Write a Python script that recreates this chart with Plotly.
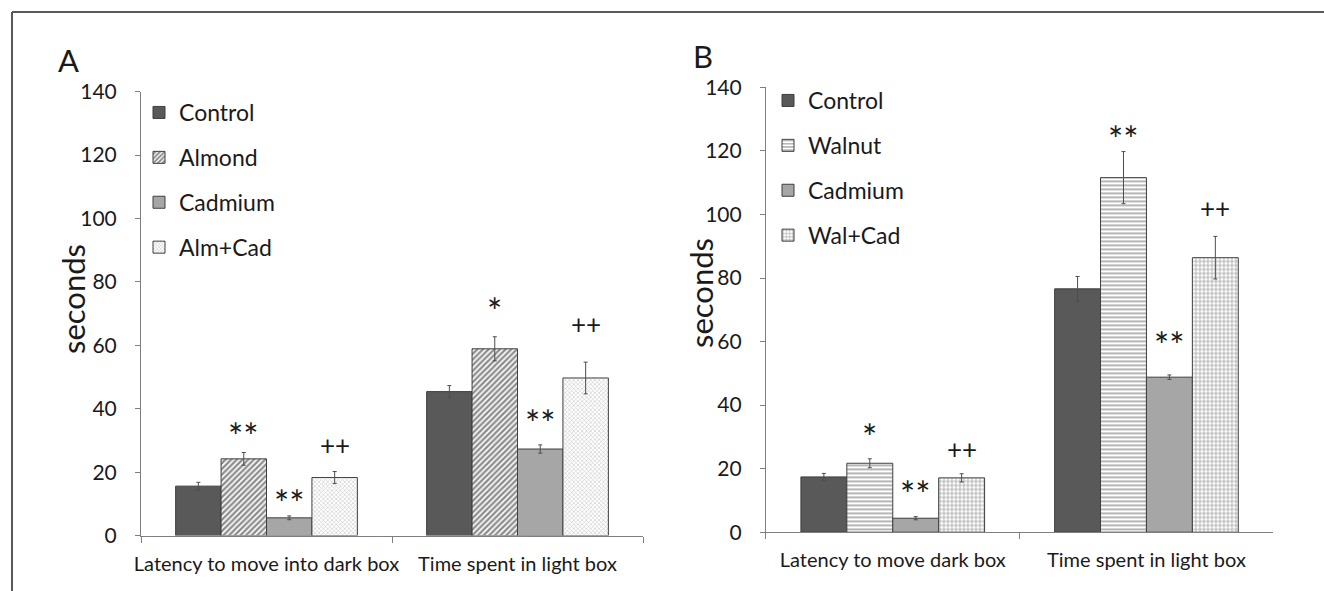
import plotly.graph_objects as go

# ---------------- data ----------------
categories_a = ["Latency to move into dark box", "Time spent in light box"]
categories_b = ["Latency to move dark box", "Time spent in light box"]

series_a = ["Control", "Almond", "Cadmium", "Alm+Cad"]
series_b = ["Control", "Walnut", "Cadmium", "Wal+Cad"]

control_a = [15.6, 45.4]
control_a_err = [1.2, 1.9]
almond_a = [24.2, 58.9]
almond_a_err = [2.0, 3.8]
cadmium_a = [5.6, 27.3]
cadmium_a_err = [0.6, 1.3]
almcad_a = [18.3, 49.7]
almcad_a_err = [1.9, 5.0]

control_b = [17.4, 76.6]
control_b_err = [1.1, 3.9]
walnut_b = [21.7, 111.6]
walnut_b_err = [1.4, 8.2]
cadmium_b = [4.4, 48.8]
cadmium_b_err = [0.5, 0.7]
walcad_b = [17.1, 86.4]
walcad_b_err = [1.3, 6.7]

sig_a_labels = ["**", "**", "++", "*", "**", "++"]
sig_a_series = [1, 2, 3, 1, 2, 3]
sig_a_cat = [0, 0, 0, 1, 1, 1]
sig_a_y = [34.2, 13.2, 28.6, 73.8, 38.2, 66.7]

sig_b_labels = ["*", "**", "++", "**", "**", "++"]
sig_b_series = [1, 2, 3, 1, 2, 3]
sig_b_cat = [0, 0, 0, 1, 1, 1]
sig_b_y = [32.9, 14.8, 26.3, 126.6, 61.9, 101.9]

y_ticks = [0, 20, 40, 60, 80, 100, 120, 140]

# ---------------- styles ----------------
FONT = "Lato"
TXT = "#1a1a1a"
AXC = "#7f7f7f"
OUTLINE = dict(color="#3f3f3f", width=1)
ERR = dict(type="data", thickness=1, width=2, color="#4d4d4d")
BARGAP = 0.276

style_control = dict(color="#595959")
style_almond = dict(color="white", pattern=dict(shape="/", fgcolor="#1e1e1e", bgcolor="white", size=4, solidity=0.6))
style_cad = dict(color="#a6a6a6")
style_almcad = dict(color="white", pattern=dict(shape="x", fgcolor="#8c8c8c", bgcolor="white", size=3, solidity=0.35))
style_walnut = dict(color="white", pattern=dict(shape="-", fgcolor="#6e6e6e", bgcolor="white", size=4, solidity=0.5))
style_walcad = dict(color="white", pattern=dict(shape="+", fgcolor="#3c3c3c", bgcolor="white", size=4, solidity=0.35))

fig = go.Figure()

def add_bar(name, cats, vals, errs, style, xa, ya, leg):
    m = dict(style)
    m["line"] = OUTLINE
    fig.add_trace(go.Bar(
        name=name, x=cats, y=vals,
        error_y=dict(array=errs, **ERR),
        marker=m, xaxis=xa, yaxis=ya, legend=leg, legendgroup=leg + name,
    ))

add_bar(series_a[0], categories_a, control_a, control_a_err, style_control, "x", "y", "legend")
add_bar(series_a[1], categories_a, almond_a, almond_a_err, style_almond, "x", "y", "legend")
add_bar(series_a[2], categories_a, cadmium_a, cadmium_a_err, style_cad, "x", "y", "legend")
add_bar(series_a[3], categories_a, almcad_a, almcad_a_err, style_almcad, "x", "y", "legend")

add_bar(series_b[0], categories_b, control_b, control_b_err, style_control, "x2", "y2", "legend2")
add_bar(series_b[1], categories_b, walnut_b, walnut_b_err, style_walnut, "x2", "y2", "legend2")
add_bar(series_b[2], categories_b, cadmium_b, cadmium_b_err, style_cad, "x2", "y2", "legend2")
add_bar(series_b[3], categories_b, walcad_b, walcad_b_err, style_walcad, "x2", "y2", "legend2")

W, H = 1324, 591
bw = (1 - BARGAP) / 4.0

annotations = []
def add_sig(labels, sers, cats, ys, xref, yref):
    for lab, s, c, yv in zip(labels, sers, cats, ys):
        star = "*" in lab
        annotations.append(dict(
            x=c + (s - 1.5) * bw, y=yv, xref=xref, yref=yref, text=lab,
            showarrow=False, xanchor="center", yanchor="middle",
            yshift=-9 if star else 0,
            font=dict(family=FONT, size=36 if star else 26, color=TXT),
        ))

add_sig(sig_a_labels, sig_a_series, sig_a_cat, sig_a_y, "x", "y")
add_sig(sig_b_labels, sig_b_series, sig_b_cat, sig_b_y, "x2", "y2")

# panel letters and y titles
annotations += [
    dict(x=68 / W, y=1 - 60 / H, xref="paper", yref="paper", text="A", showarrow=False,
         xanchor="center", yanchor="middle", font=dict(family=FONT, size=31, color=TXT)),
    dict(x=703 / W, y=1 - 56 / H, xref="paper", yref="paper", text="B", showarrow=False,
         xanchor="center", yanchor="middle", font=dict(family=FONT, size=31, color=TXT)),
    dict(x=73 / W, y=1 - 299 / H, xref="paper", yref="paper", text="seconds", showarrow=False,
         textangle=-90, xanchor="center", yanchor="middle", font=dict(family=FONT, size=31, color=TXT)),
    dict(x=701 / W, y=1 - 293 / H, xref="paper", yref="paper", text="seconds", showarrow=False,
         textangle=-90, xanchor="center", yanchor="middle", font=dict(family=FONT, size=31, color=TXT)),
]

# outer frame (top and left edges)
shapes = [
    dict(type="line", xref="paper", yref="paper", x0=12 / W, x1=1.01, y0=1 - 12 / H, y1=1 - 12 / H,
         line=dict(color="#595959", width=2)),
    dict(type="line", xref="paper", yref="paper", x0=12 / W, x1=12 / W, y0=1 - 12 / H, y1=-0.01,
         line=dict(color="#595959", width=2)),
]

xaxis_common = dict(type="category", showline=True, linecolor=AXC, linewidth=1, ticks="outside",
                    tickson="boundaries", ticklen=6, tickcolor=AXC, showgrid=False, zeroline=False,
                    tickangle=0, automargin=False,
                    tickfont=dict(family=FONT, size=20, color=TXT), ticklabelstandoff=10, fixedrange=True)
yaxis_common = dict(range=[0, 140], tickvals=y_ticks, showline=True, linecolor=AXC, linewidth=1,
                    ticks="outside", ticklen=5, tickcolor=AXC, showgrid=False, zeroline=False,
                    automargin=False,
                    tickfont=dict(family=FONT, size=21, color=TXT), ticklabelstandoff=14, fixedrange=True)

legend_common = dict(font=dict(family=FONT, size=23, color=TXT), bgcolor="rgba(0,0,0,0)",
                     xanchor="left", yanchor="top", tracegroupgap=12, traceorder="grouped",
                     itemwidth=30)

fig.update_layout(
    width=W, height=H,
    margin=dict(l=0, r=0, t=0, b=0, autoexpand=False),
    paper_bgcolor="white", plot_bgcolor="white",
    barmode="group", bargap=BARGAP, bargroupgap=0,
    xaxis=dict(domain=[141 / W, 643 / W], anchor="y", **xaxis_common),
    yaxis=dict(domain=[1 - 535.6 / H, 1 - 91.6 / H], anchor="x", **yaxis_common),
    xaxis2=dict(domain=[765.9 / W, 1273.3 / W], anchor="y2", **xaxis_common),
    yaxis2=dict(domain=[1 - 532.2 / H, 1 - 87.4 / H], anchor="x2", **yaxis_common),
    legend=dict(x=139 / W, y=1 - 91 / H, **legend_common),
    legend2=dict(x=768 / W, y=1 - 79 / H, **legend_common),
    annotations=annotations,
    shapes=shapes,
    showlegend=True,
)

fig.write_html(
    "out.html",
    config={"displayModeBar": False},
    post_script="document.body.style.margin='0';document.body.style.overflow='hidden';",
)
